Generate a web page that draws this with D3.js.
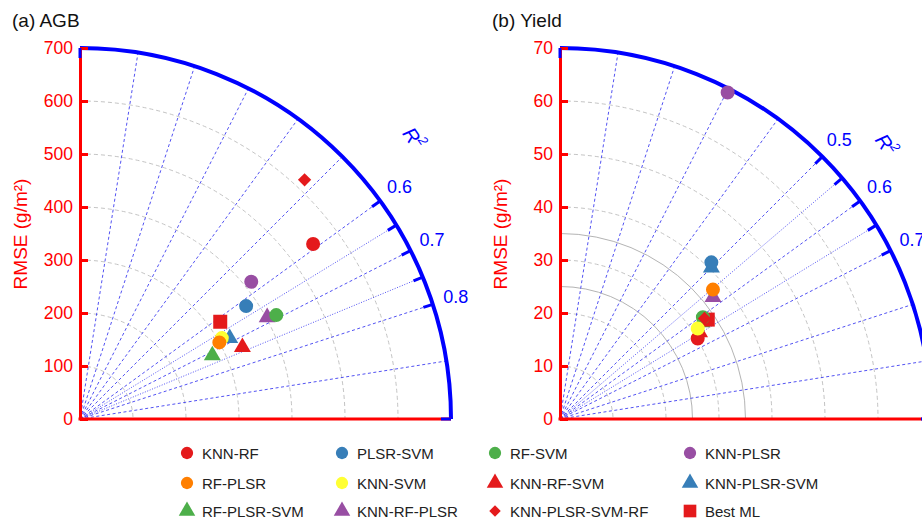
<!DOCTYPE html>
<html>
<head>
<meta charset="utf-8">
<style>
  body { margin: 0; background: #fff; }
  svg { font-family: "Liberation Sans", Arial, sans-serif; }
</style>
</head>
<body>
<svg width="922" height="522" id="chart"></svg>
<script src="https://d3js.org/d3.v7.min.js"></script>
<script>

// models, in legend order
const models = ['KNN-RF', 'PLSR-SVM', 'RF-SVM', 'KNN-PLSR',
                'RF-PLSR', 'KNN-SVM', 'KNN-RF-SVM', 'KNN-PLSR-SVM',
                'RF-PLSR-SVM', 'KNN-RF-PLSR', 'KNN-PLSR-SVM-RF', 'Best ML']
const shapes = ['circle', 'circle', 'circle', 'circle',
                'circle', 'circle', 'triangle', 'triangle',
                'triangle', 'triangle', 'diamond', 'square']
const colors = ['#e41a1c', '#377eb8', '#4daf4a', '#984ea3',
                '#ff7f00', '#ffff33', '#e41a1c', '#377eb8',
                '#4daf4a', '#984ea3', '#e41a1c', '#e41a1c']

// (a) AGB
const agbR2   = [0.59, 0.62, 0.69, 0.57, 0.68, 0.67, 0.735, 0.685, 0.715, 0.683, 0.48, 0.614]
const agbRmse = [550, 379, 419, 414, 300, 308, 335, 321, 277, 402, 619, 322]
const agbTicks = [0, 100, 200, 300, 400, 500, 600, 700]
const agbRadial = [0.1, 0.2, 0.3, 0.4, 0.5, 0.6, 0.65, 0.7, 0.75, 0.8, 0.9]
const agbArcTicks = [0, 0.6, 0.65, 0.7, 0.75, 0.8, 1]
const agbArcLabels = [0.6, 0.7, 0.8]
const agbGrayArcs = [100, 200, 300, 400, 500, 600]
const agbSolidArcs = []

// (b) Yield
const yieldR2   = [0.663, 0.489, 0.606, 0.302, 0.553, 0.63, 0.646, 0.5, 0.619, 0.572, 0.613, 0.623]
const yieldRmse = [30.1, 41.1, 33.1, 69.25, 37.8, 31.1, 31.0, 40.4, 32.4, 36.9, 33.2, 33.6]
const yieldTicks = [0, 10, 20, 30, 40, 50, 60, 70]
const yieldRadial = [0.1, 0.2, 0.3, 0.4, 0.5, 0.55, 0.6, 0.65, 0.7, 0.8, 0.9]
const yieldArcTicks = [0, 0.5, 0.55, 0.6, 0.65, 0.7, 1]
const yieldArcLabels = [0.5, 0.6, 0.7]
const yieldGrayArcs = [10, 20, 30, 40, 50, 60]
const yieldSolidArcs = [25, 35]

// triangles first, then square, circles, diamond on top
const drawOrder = [6, 7, 8, 9, 11, 0, 1, 2, 3, 5, 4, 10]

const R = 371
const svg = d3.select('#chart')

function translate(x, y) { return 'translate(' + x + ',' + y + ')' }

function symbolPath(shape, big) {
  let type = d3.symbolCircle, size = big ? 154 : 118
  if (shape == 'triangle') { type = d3.symbolTriangle; size = big ? 125 : 118 }
  if (shape == 'square') { type = d3.symbolSquare; size = big ? 196 : 160 }
  if (shape == 'diamond') { type = d3.symbolSquare; size = big ? 88 : 66 }
  return d3.symbol().type(type).size(size)()
}

function drawPanel(opt) {
  let g = svg.append('g').attr('transform', translate(opt.x, opt.y))
  let r = d3.scaleLinear().domain([0, opt.max]).range([0, R])
  let ang = d3.scaleLinear().domain([0, 1]).range([Math.PI / 2, 0])
  let pos = (v, q) => [r(v) * Math.cos(ang(q)), -r(v) * Math.sin(ang(q))]

  let arcPath = v => {
    let p = d3.path()
    p.moveTo(0, -r(v))
    p.arc(0, 0, r(v), -Math.PI / 2, 0, false)
    return p.toString()
  }

  // gray rmse arcs
  g.selectAll('.garc').data(opt.grayArcs).enter().append('path')
    .attr('d', arcPath).attr('fill', 'none')
    .attr('stroke', '#c4c4c4').attr('stroke-width', 1).attr('stroke-dasharray', '4,3')
  g.selectAll('.sarc').data(opt.solidArcs).enter().append('path')
    .attr('d', arcPath).attr('fill', 'none')
    .attr('stroke', '#b4b4b4').attr('stroke-width', 1)

  // radial R2 lines
  g.selectAll('.rad').data(opt.radial).enter().append('line')
    .attr('x1', 0).attr('y1', 0)
    .attr('x2', d => pos(opt.max, d)[0]).attr('y2', d => pos(opt.max, d)[1])
    .attr('stroke', '#3434f0').attr('stroke-opacity', 0.85).attr('stroke-width', 1)
    .attr('stroke-dasharray', d => Math.abs(d * 10 - Math.round(d * 10)) > 0.01 ? '1,1.6' : '3,2.5')

  // outer arc
  g.append('path').attr('d', arcPath(opt.max)).attr('fill', 'none')
    .attr('stroke', '#0000ff').attr('stroke-width', 4)

  // red axes
  let y = d3.scaleLinear().domain([0, opt.max]).range([0, -R])
  let yAxis = g.append('g').call(d3.axisLeft(y).tickValues(opt.ticks)
    .tickSizeInner(-8).tickSizeOuter(0).tickPadding(7))
  yAxis.select('.domain').attr('stroke', '#ff0000').attr('stroke-width', 3)
  yAxis.selectAll('.tick line').attr('stroke', '#ff0000').attr('stroke-width', 3)
  yAxis.selectAll('.tick text').attr('fill', '#ff0000')
    .style('font-size', '17.5px').style('font-family', '"Liberation Sans", Arial, sans-serif')
  g.append('line').attr('x1', -1.5).attr('y1', 0).attr('x2', R).attr('y2', 0)
    .attr('stroke', '#ff0000').attr('stroke-width', 3)

  // R2 ticks on arc
  g.selectAll('.atk').data(opt.arcTicks).enter().append('line')
    .attr('x1', d => pos(opt.max * (R - 10) / R, d)[0]).attr('y1', d => pos(opt.max * (R - 10) / R, d)[1])
    .attr('x2', d => pos(opt.max, d)[0]).attr('y2', d => pos(opt.max, d)[1])
    .attr('stroke', '#0000ff').attr('stroke-width', 3)

  g.selectAll('.alb').data(opt.arcLabels).enter().append('text')
    .attr('x', d => pos(opt.max * (R + 24) / R, d)[0]).attr('y', d => pos(opt.max * (R + 24) / R, d)[1])
    .attr('text-anchor', 'middle').attr('dominant-baseline', 'central')
    .attr('fill', '#0000ff').style('font-size', '18px')
    .text(d => d.toFixed(1))

  let lp = pos(opt.max * opt.r2LabelR / R, 0.555)
  let t = g.append('text').attr('transform', translate(lp[0], lp[1]) + ' rotate(55)')
    .attr('text-anchor', 'middle').attr('dominant-baseline', 'central')
    .attr('fill', '#0000ff').style('font-size', '20px').style('font-style', 'italic')
  t.append('tspan').text('R')
  t.append('tspan').attr('dy', -7).style('font-size', '13px').text('2')

  // axis title and panel title
  svg.append('text').attr('transform', translate(opt.x - 53, opt.y - 185) + ' rotate(-90)')
    .attr('text-anchor', 'middle').attr('fill', '#ff0000').style('font-size', '19px')
    .text('RMSE (g/m²)')
  svg.append('text').attr('x', opt.x - 68).attr('y', 27)
    .attr('fill', '#111').style('font-size', '19px').text(opt.title)

  // markers
  g.selectAll('.mk').data(drawOrder).enter().append('path')
    .attr('d', i => symbolPath(shapes[i], true))
    .attr('transform', i => {
      let p = pos(opt.rmse[i], opt.r2[i])
      return translate(p[0], p[1]) + (shapes[i] == 'diamond' ? ' rotate(45)' : '')
    })
    .attr('fill', i => colors[i])
}

drawPanel({ x: 80, y: 419, max: 700, title: '(a) AGB', ticks: agbTicks,
  radial: agbRadial, arcTicks: agbArcTicks, arcLabels: agbArcLabels,
  grayArcs: agbGrayArcs, solidArcs: agbSolidArcs, r2: agbR2, rmse: agbRmse, r2LabelR: 436 })

drawPanel({ x: 560, y: 419, max: 70, title: '(b) Yield', ticks: yieldTicks,
  radial: yieldRadial, arcTicks: yieldArcTicks, arcLabels: yieldArcLabels,
  grayArcs: yieldGrayArcs, solidArcs: yieldSolidArcs, r2: yieldR2, rmse: yieldRmse, r2LabelR: 426 })

// legend
const legendX = [187, 342, 495, 690]
const legendY = [453, 483, 511]
let legend = svg.append('g')
models.forEach((m, i) => {
  let lx = legendX[i % 4], ly = legendY[Math.floor(i / 4)]
  legend.append('path').attr('d', symbolPath(shapes[i], false))
    .attr('transform', translate(lx, ly) + (shapes[i] == 'diamond' ? ' rotate(45)' : ''))
    .attr('fill', colors[i])
  legend.append('text').attr('x', lx + 15).attr('y', ly).attr('dominant-baseline', 'central')
    .attr('fill', '#222').style('font-size', '15px').text(m)
})

</script>
</body>
</html>
